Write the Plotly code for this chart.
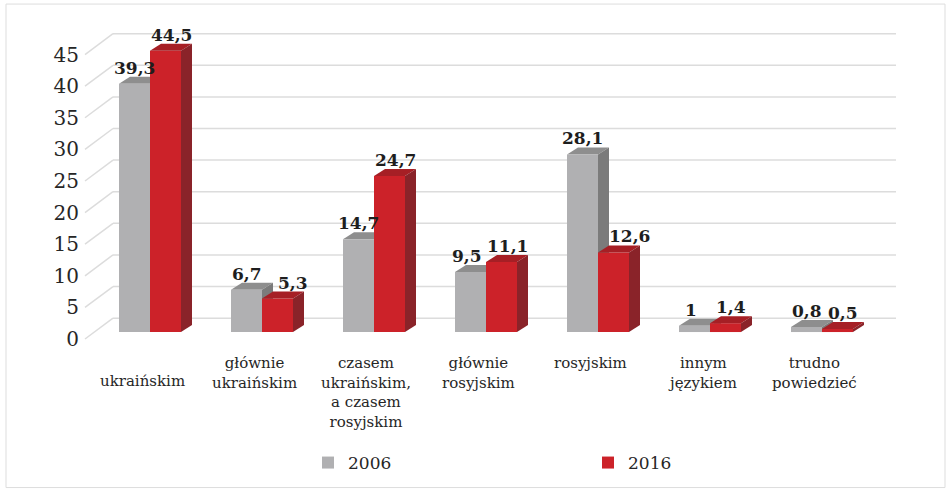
import plotly.graph_objects as go

# ---------------- data ----------------
categories = [
    "ukraińskim",
    "głównie<br>ukraińskim",
    "czasem<br>ukraińskim,<br>a czasem<br>rosyjskim",
    "głównie<br>rosyjskim",
    "rosyjskim",
    "innym<br>językiem",
    "trudno<br>powiedzieć",
]
values_2006 = [39.3, 6.7, 14.7, 9.5, 28.1, 1.0, 0.8]
values_2016 = [44.5, 5.3, 24.7, 11.1, 12.6, 1.4, 0.5]
series_names = ["2006", "2016"]
y_ticks = [0, 5, 10, 15, 20, 25, 30, 35, 40, 45]

# ---------------- style / geometry ----------------
W, H = 947, 492
ML, MR, MT, MB = 80, 22, 20, 147
X0_PX, PX_PER_CAT = 150, 112.0      # pixel of first category, px per category
Y0_PX, PX_PER_UNIT = 333, 6.34      # pixel of value 0 (bar front base), px per unit

def px2x(p):
    return (p - X0_PX) / PX_PER_CAT

def px2y(p):
    return (Y0_PX - p) / PX_PER_UNIT

FONT = "DejaVu Serif"
GRAY_FRONT, GRAY_TOP, GRAY_SIDE = "#B0B0B2", "#8E8E8E", "#7B7B7B"
RED_FRONT, RED_TOP, RED_SIDE = "#CC2229", "#A61F25", "#8A2329"
GRID = "#DCDCDC"

bw = 31 / PX_PER_CAT            # bar width in category units
ddx = 11 / PX_PER_CAT           # bar depth, x
ddy = 7 / PX_PER_UNIT           # bar depth, y
wall_front_x, wall_back_x, wall_right_x = px2x(85), px2x(113), px2x(896)
wall_front_dy, wall_back_dy = -1.1, 2.2

def fmt(v):
    return str(int(v)) if float(v).is_integer() else f"{v:.1f}".replace(".", ",")

idx = list(range(len(categories)))

fig = go.Figure()
fig.add_trace(go.Bar(x=idx, y=values_2006, width=bw, offset=-bw, name=series_names[0],
                     marker=dict(color=GRAY_FRONT, line=dict(width=0)), hoverinfo="y"))
fig.add_trace(go.Bar(x=idx, y=values_2016, width=bw, offset=0, name=series_names[1],
                     marker=dict(color=RED_FRONT, line=dict(width=0)), hoverinfo="y"))

shapes = []
# grid (back wall + slanted floor/side lines)
for v in y_ticks:
    yb = v + wall_back_dy
    yf = v + wall_front_dy
    shapes.append(dict(type="line", xref="x", yref="y", x0=wall_back_x, x1=wall_right_x,
                       y0=yb, y1=yb, line=dict(color=GRID, width=1.5), layer="below"))
    shapes.append(dict(type="line", xref="x", yref="y", x0=wall_front_x, x1=wall_back_x,
                       y0=yf, y1=yb, line=dict(color=GRID, width=1.5), layer="below"))

def poly(pts, color, layer):
    path = "M " + " L ".join(f"{x},{y}" for x, y in pts) + " Z"
    return dict(type="path", xref="x", yref="y", path=path, fillcolor=color,
                line=dict(width=0), layer=layer)

for i, (vg, vr) in enumerate(zip(values_2006, values_2016)):
    # 2006 bar: top and right side (behind the 2016 bar)
    xl, xr = i - bw, i
    shapes.append(poly([(xl, vg), (xr, vg), (xr + ddx, vg + ddy), (xl + ddx, vg + ddy)], GRAY_TOP, "below"))
    shapes.append(poly([(xr, 0), (xr, vg), (xr + ddx, vg + ddy), (xr + ddx, ddy)], GRAY_SIDE, "below"))
for i, (vg, vr) in enumerate(zip(values_2006, values_2016)):
    xl, xr = i, i + bw
    shapes.append(poly([(xl, vr), (xr, vr), (xr + ddx, vr + ddy), (xl + ddx, vr + ddy)], RED_TOP, "above"))
    shapes.append(poly([(xr, 0), (xr, vr), (xr + ddx, vr + ddy), (xr + ddx, ddy)], RED_SIDE, "above"))

# outer border
shapes.append(dict(type="rect", xref="paper", yref="paper",
                   x0=(6 - ML) / (W - ML - MR), x1=(945 - ML) / (W - ML - MR),
                   y0=(H - MB - 489) / (H - MT - MB), y1=(H - MB - 4) / (H - MT - MB),
                   line=dict(color="#DDDDDD", width=1), layer="below"))

annotations = []
lab_font = dict(family=FONT, size=17, color="#1E1E1E")
for i, (vg, vr) in enumerate(zip(values_2006, values_2016)):
    g_shift = -4 if 0 < vr - vg < 3 else 0
    r_shift = 10 if vg - vr > 1 else 0
    annotations.append(dict(x=i - bw / 2, y=vg + ddy, text=f"<b>{fmt(vg)}</b>",
                            showarrow=False, yanchor="bottom", yshift=-3, xshift=g_shift,
                            font=lab_font))
    annotations.append(dict(x=i + bw / 2 + ddx / 2, y=vr + ddy, text=f"<b>{fmt(vr)}</b>",
                            showarrow=False, yanchor="bottom", yshift=-3, xshift=r_shift,
                            font=lab_font))
for i, c in enumerate(categories):
    annotations.append(dict(x=i, y=0, xref="x", yref="paper", text=c, showarrow=False,
                            yanchor="top", xanchor="center", align="center",
                            xshift=-8, yshift=-8 - (18 if i == 0 else 0),
                            font=dict(family=FONT, size=15, color="#262626")))

fig.update_layout(
    width=W, height=H,
    margin=dict(l=ML, r=MR, t=MT, b=MB, pad=0),
    paper_bgcolor="white", plot_bgcolor="white",
    barmode="overlay",
    font=dict(family=FONT, color="#262626"),
    xaxis=dict(range=[px2x(ML), px2x(W - MR)], showgrid=False, zeroline=False,
               showline=False, showticklabels=False, ticks=""),
    yaxis=dict(range=[px2y(H - MB), px2y(MT)], showgrid=False, zeroline=False,
               showline=False, ticks="",
               tickvals=[v + wall_front_dy for v in y_ticks],
               ticktext=[str(v) for v in y_ticks],
               tickfont=dict(family=FONT, size=20, color="#262626")),
    shapes=shapes,
    annotations=annotations,
    showlegend=True,
    legend=dict(orientation="h", x=(308 - ML) / (W - ML - MR), xanchor="left",
                y=(H - MB - 463) / (H - MT - MB), yanchor="middle",
                entrywidth=235, entrywidthmode="pixels",
                font=dict(family=FONT, size=17, color="#262626"),
                bgcolor="rgba(0,0,0,0)"),
)

fig.write_html("out.html", config={"displayModeBar": False},
               post_script="document.body.style.margin='0';")
